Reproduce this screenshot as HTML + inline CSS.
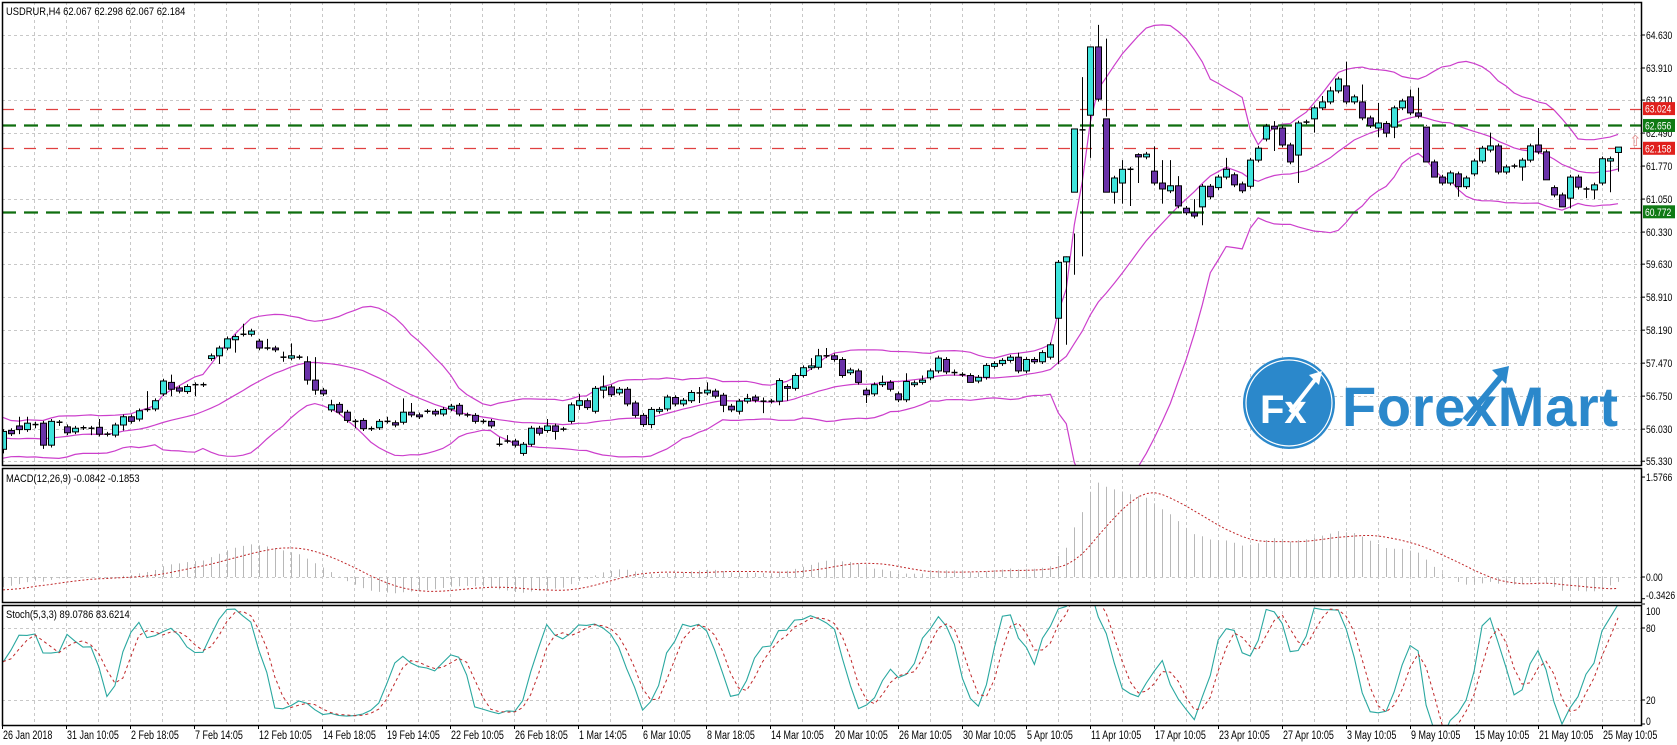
<!DOCTYPE html>
<html><head><meta charset="utf-8"><style>
html,body{margin:0;padding:0;background:#fff;}
svg{display:block;font-family:"Liberation Sans",Arial,sans-serif;}
</style></head><body>
<svg id="chart" width="1677" height="745" viewBox="0 0 1677 745" xmlns="http://www.w3.org/2000/svg"></svg>
<script>
// ---------- DATA ----------
const preClose = [56.9,56.95,56.85,56.9,56.8,56.75,56.85,56.7,56.6,56.65,56.55,56.5,56.6,56.45,56.4,56.5,56.35,56.3,56.4,56.25,56.2,56.3,56.1,56.0,56.15,55.9,55.75,55.85,55.6,55.5,55.7,55.95,56.1,55.8,55.6,55.5,55.75,56.0,55.7,55.6];
const opens = [55.59,56.0,56.1,56.02,56.14,56.16,55.68,56.18,56.08,55.97,56.06,56.05,56.07,55.92,55.9,56.12,56.3,56.25,56.46,56.47,56.8,57.05,56.93,56.85,57.0,57.0,57.57,57.63,57.8,57.98,58.1,58.1,57.95,57.8,57.8,57.6,57.58,57.6,57.5,57.1,56.88,56.45,56.57,56.4,56.2,56.22,56.04,56.06,56.2,56.17,56.18,56.4,56.34,56.42,56.42,56.36,56.47,56.55,56.34,56.33,56.2,56.2,55.7,55.77,55.77,55.5,55.7,56.05,56.0,56.1,56.03,56.2,56.55,56.65,56.42,56.88,56.95,56.82,56.9,56.6,56.33,56.13,56.42,56.47,56.72,56.58,56.65,56.82,56.82,56.86,56.77,56.53,56.42,56.64,56.73,56.64,56.64,56.64,56.96,56.92,57.2,57.37,57.38,57.63,57.63,57.55,57.26,57.3,56.88,56.8,57.0,57.05,56.8,56.67,57.0,57.05,57.15,57.3,57.55,57.28,57.22,57.2,57.08,57.16,57.4,57.46,57.53,57.6,57.3,57.55,57.5,57.6,58.45,59.68,61.2,62.56,62.88,64.37,62.8,61.2,61.4,61.7,62.02,61.97,61.66,61.4,61.23,61.34,60.85,60.75,60.88,61.33,61.3,61.53,61.58,61.38,61.33,61.9,62.36,62.64,62.6,62.23,62.01,62.73,62.8,63.04,63.17,63.41,63.52,63.17,63.17,62.82,62.6,62.7,62.62,63.04,63.28,62.93,62.62,61.86,61.53,61.4,61.6,61.32,61.6,61.88,62.12,62.21,61.64,61.77,61.75,61.9,62.23,62.08,61.3,61.14,61.07,61.53,61.27,61.25,61.4,61.88,62.067];
const closes = [55.98,55.93,56.02,56.16,56.12,55.68,56.2,56.18,55.95,56.05,56.06,56.05,55.92,55.92,56.12,56.3,56.2,56.43,56.46,56.65,57.08,56.9,56.86,56.96,57.0,57.0,57.63,57.8,58.0,58.05,58.1,58.17,57.8,57.8,57.76,57.6,57.63,57.6,57.1,56.88,56.8,56.56,56.4,56.22,56.2,56.04,56.04,56.2,56.2,56.12,56.4,56.34,56.3,56.42,56.36,56.46,56.53,56.36,56.34,56.2,56.2,56.1,55.7,55.77,55.68,55.7,56.05,55.94,56.1,55.98,56.03,56.56,56.65,56.5,56.92,56.95,56.78,56.9,56.58,56.33,56.13,56.46,56.46,56.73,56.58,56.66,56.83,56.82,56.88,56.75,56.55,56.45,56.64,56.7,56.66,56.64,56.64,57.09,56.92,57.2,57.37,57.41,57.63,57.63,57.55,57.2,57.32,57.05,56.78,57.0,57.05,56.9,56.67,57.07,57.04,57.1,57.3,57.58,57.28,57.25,57.22,57.05,57.16,57.42,57.46,57.53,57.6,57.3,57.55,57.5,57.7,57.87,59.67,59.79,62.58,62.56,64.37,63.23,61.2,61.51,61.7,61.7,61.97,62.03,61.4,61.27,61.34,60.9,60.75,60.68,61.33,61.1,61.53,61.7,61.36,61.23,61.9,62.16,62.64,62.58,62.23,61.86,62.71,62.73,63.04,63.17,63.41,63.67,63.17,63.28,62.82,62.65,62.71,62.49,63.04,63.19,62.93,62.86,61.86,61.53,61.4,61.62,61.32,61.51,61.88,62.16,62.21,61.64,61.75,61.77,61.9,62.21,62.08,61.47,61.14,60.88,61.53,61.31,61.27,61.36,61.93,61.93,62.184];
const highs = [null,null,56.3,56.3,null,null,null,null,null,null,null,null,56.25,null,null,null,null,null,56.86,null,null,57.22,null,null,null,null,null,null,null,null,58.33,null,null,58.0,null,57.72,57.9,null,57.62,57.6,null,56.67,null,null,null,null,null,null,56.3,null,56.7,56.6,null,null,null,null,null,null,null,null,null,null,55.85,55.9,null,null,null,null,56.25,null,null,null,56.8,null,null,57.2,null,null,null,null,null,null,null,null,null,null,null,56.95,57.05,null,null,null,null,56.8,null,56.72,null,null,null,null,null,57.58,57.78,57.8,null,null,null,null,null,null,57.2,null,null,57.25,null,57.2,null,null,null,null,null,null,null,null,null,null,null,57.7,null,null,null,null,null,59.8,60.3,63.71,63.34,64.85,64.55,null,61.9,null,62.05,null,62.2,61.9,61.9,61.55,null,61.05,null,null,null,61.95,null,null,null,null,null,62.75,null,null,null,null,null,63.3,63.5,null,64.05,null,63.55,null,63.15,null,null,null,63.44,63.48,null,null,null,null,null,null,null,null,62.5,null,null,null,null,null,62.6,null,null,null,null,null,null,null,null,null,62.1,62.298];
const lows = [55.5,null,55.92,null,56.05,55.6,null,56.1,null,null,null,55.9,null,null,55.85,56.0,null,null,null,null,null,56.75,null,56.8,56.75,null,null,57.45,null,57.7,null,null,null,null,null,57.5,null,null,57.0,56.78,null,null,null,null,56.05,null,null,null,null,null,null,null,null,null,null,null,null,null,null,null,null,null,null,null,null,null,null,null,null,55.8,null,null,56.45,null,null,56.7,null,null,null,null,null,56.05,null,null,null,null,null,56.6,null,null,56.4,null,56.35,null,null,56.38,null,56.55,56.65,null,null,null,null,null,null,null,null,null,56.6,null,null,null,null,null,null,null,null,null,null,null,null,57.05,null,null,null,null,null,null,null,null,null,null,57.45,57.87,59.4,59.8,61.95,null,62.85,60.95,60.95,60.9,61.4,null,null,60.95,null,null,null,null,60.48,null,null,null,null,null,null,null,null,62.1,null,null,61.4,null,62.5,null,null,null,null,null,null,null,62.4,62.4,62.38,null,null,null,62.65,61.68,null,null,61.1,null,null,null,null,null,null,null,61.45,null,null,61.9,null,60.95,60.85,null,61.07,61.05,null,61.2,61.65,62.067];
const dateLabels = ["26 Jan 2018","31 Jan 10:05","2 Feb 18:05","7 Feb 14:05","12 Feb 10:05","14 Feb 18:05","19 Feb 14:05","22 Feb 10:05","26 Feb 18:05","1 Mar 14:05","6 Mar 10:05","8 Mar 18:05","14 Mar 10:05","20 Mar 10:05","26 Mar 10:05","30 Mar 10:05","5 Apr 10:05","11 Apr 10:05","17 Apr 10:05","23 Apr 10:05","27 Apr 10:05","3 May 10:05","9 May 10:05","15 May 10:05","21 May 10:05","25 May 10:05"];
const priceTicks = [64.630,63.910,63.210,62.490,61.770,61.050,60.330,59.630,58.910,58.190,57.470,56.750,56.030,55.330];
const levelPrices = [63.024,62.656,62.158,60.772];
const levelColors = ["red","green","red","green"];
const macdTicks = [1.5766,0.00,-0.3426];
const stochTicks = [100,80,20,0];

// ---------- GEOMETRY ----------
const svg = document.getElementById('chart');
const NS = 'http://www.w3.org/2000/svg';
const L = 2, R = 1641;
const MAIN = {top:2, bot:465}, MACDP = {top:468, bot:602}, STP = {top:605, bot:725};
const N = closes.length;
const xOf = i => 3 + i * (1615 / (N - 1));
const yP = p => 35 + (64.63 - p) * 45.83;
const yM = v => 577 - v * 63.4;
const yS = v => 724 - v * 1.2;
function mk(tag, attrs, parent) {
  const e = document.createElementNS(NS, tag);
  for (const k in attrs) e.setAttribute(k, attrs[k]);
  (parent || svg).appendChild(e);
  return e;
}
function clip(id, top, bot) {
  const c = mk('clipPath', {id: id});
  mk('rect', {x: L, y: top, width: R - L, height: bot - top}, c);
}
clip('cm', MAIN.top, MAIN.bot); clip('cmacd', MACDP.top, MACDP.bot); clip('cst', STP.top, STP.bot);

// ---------- GRID ----------
const grid = mk('g', {stroke: '#c8c8c8', 'stroke-width': 1, 'stroke-dasharray': '3 3'});


for (let x = 34; x < R; x += 32) {
  [[MAIN.top, MAIN.bot], [MACDP.top, MACDP.bot], [STP.top, STP.bot]].forEach(p => mk('line', {x1: x + .5, x2: x + .5, y1: p[0], y2: p[1]}, grid));
}
priceTicks.forEach(p => mk('line', {x1: L, x2: R, y1: Math.round(yP(p)) + .5, y2: Math.round(yP(p)) + .5}, grid));
mk('line', {x1: L, x2: R, y1: Math.round(yM(0)) + .5, y2: Math.round(yM(0)) + .5}, grid);
[80, 20].forEach(v => mk('line', {x1: L, x2: R, y1: Math.round(yS(v)) + .5, y2: Math.round(yS(v)) + .5}, grid));

// ---------- INDICATORS ----------
const allC = preClose.concat(closes);
const P = preClose.length;
const allH = [], allL = [];
for (let k = 0; k < allC.length; k++) {
  const i = k - P;
  if (i < 0) { const o = k ? allC[k-1] : allC[k]; allH.push(Math.max(o, allC[k]) + 0.08); allL.push(Math.min(o, allC[k]) - 0.08); }
  else { allH.push(highs[i] != null ? highs[i] : Math.max(opens[i], closes[i]) + 0.05); allL.push(lows[i] != null ? lows[i] : Math.min(opens[i], closes[i]) - 0.05); }
}
const bbU = [], bbM = [], bbL = [];
for (let i = 0; i < N; i++) {
  const k = i + P; let s = 0; for (let j = k - 19; j <= k; j++) s += allC[j];
  const m = s / 20; let v = 0; for (let j = k - 19; j <= k; j++) v += (allC[j] - m) ** 2;
  const sd = Math.sqrt(v / 20); bbM.push(m); bbU.push(m + 2 * sd); bbL.push(m - 2 * sd);
}
const ema = (arr, n) => { const a = 2 / (n + 1); const out = [arr[0]]; for (let i = 1; i < arr.length; i++) out.push(out[i-1] + a * (arr[i] - out[i-1])); return out; };
const e12 = ema(allC, 12), e26 = ema(allC, 26);
const macdAll = allC.map((_, k) => e12[k] - e26[k]);
const sigAll = macdAll.map((_, k) => { let s = 0, c = 0; for (let j = Math.max(0, k - 8); j <= k; j++) { s += macdAll[j]; c++; } return s / c; });
const rawN = [], rawD = [];
for (let k = 0; k < allC.length; k++) {
  let hh = -1e9, ll = 1e9; for (let j = Math.max(0, k - 4); j <= k; j++) { hh = Math.max(hh, allH[j]); ll = Math.min(ll, allL[j]); }
  rawN.push(allC[k] - ll); rawD.push(hh - ll);
}
const kAll = allC.map((_, k) => { let a = 0, b = 0; for (let j = Math.max(0, k - 2); j <= k; j++) { a += rawN[j]; b += rawD[j]; } return b ? 100 * a / b : 50; });
const dAll = kAll.map((_, k) => { let s = 0, c = 0; for (let j = Math.max(0, k - 2); j <= k; j++) { s += kAll[j]; c++; } return s / c; });

function poly(vals, yf, attrs, name, cp) {
  const pts = vals.map((v, i) => xOf(i).toFixed(1) + ',' + yf(v).toFixed(1)).join(' ');
  const e = mk('polyline', Object.assign({points: pts, fill: 'none', 'clip-path': 'url(#' + cp + ')'}, attrs));
  
  
  return e;
}
const bandColor = '#cc3fcc';
poly(bbU, yP, {stroke: bandColor, 'stroke-width': 1.2}, 'bollinger-upper', 'cm');
poly(bbM, yP, {stroke: bandColor, 'stroke-width': 1.2}, 'bollinger-middle', 'cm');
poly(bbL, yP, {stroke: bandColor, 'stroke-width': 1.2}, 'bollinger-lower', 'cm');

// ---------- LEVEL LINES ----------
levelPrices.forEach((p, j) => {
  const y = Math.round(yP(p)) + .5;
  const green = levelColors[j] === 'green';
  const ln = mk('line', {x1: L, x2: R, y1: y, y2: y, stroke: green ? '#0f6e0f' : '#e04040', 'stroke-width': green ? 2.2 : 1.2, 'stroke-dasharray': green ? '14 8' : '12 10'});
  
  
});

// ---------- CANDLES ----------
const cg = mk('g', {'clip-path': 'url(#cm)'});


for (let i = 0; i < N; i++) {
  const x = Math.round(xOf(i)) + .5, o = opens[i], c = closes[i];
  const h = allH[i + P], l = allL[i + P];
  const g = mk('g', {}, cg);
  
  
  mk('line', {x1: x, x2: x, y1: yP(h), y2: yP(l), stroke: '#000', 'stroke-width': 1}, g);
  const yt = yP(Math.max(o, c)), yb = yP(Math.min(o, c));
  if (yb - yt < 1.5) mk('line', {x1: x - 3, x2: x + 3, y1: (yt + yb) / 2, y2: (yt + yb) / 2, stroke: '#000', 'stroke-width': 1.5}, g);
  else mk('rect', {x: x - 3, y: yt, width: 6, height: yb - yt, fill: c >= o ? '#3ee4dc' : '#6a32a8', stroke: '#000', 'stroke-width': 1}, g);
}

// ---------- MACD ----------
const mg = mk('g', {'clip-path': 'url(#cmacd)', stroke: '#b8b8b8', 'stroke-width': 1});


for (let i = 0; i < N; i++) {
  const x = Math.round(xOf(i)) + .5;
  const b = mk('line', {x1: x, x2: x, y1: yM(0), y2: yM(macdAll[i + P])}, mg);
  
  
}
poly(sigAll.slice(P), yM, {stroke: '#c0282a', 'stroke-width': 1, 'stroke-dasharray': '2 2'}, 'macd-signal-line', 'cmacd');

// ---------- STOCH ----------
poly(kAll.slice(P), yS, {stroke: '#2aa8a0', 'stroke-width': 1.1}, 'stoch-main-line', 'cst');
poly(dAll.slice(P), yS, {stroke: '#c0282a', 'stroke-width': 1, 'stroke-dasharray': '3 3'}, 'stoch-signal-line', 'cst');

// ---------- FRAMES ----------
[[MAIN.top, MAIN.bot, 'main-panel'], [MACDP.top, MACDP.bot, 'macd-panel'], [STP.top, STP.bot, 'stoch-panel']].forEach(p => {
  const r = mk('rect', {x: L + .5, y: p[0] + .5, width: R - L, height: p[1] - p[0], fill: 'none', stroke: '#000', 'stroke-width': 1.5});
  
  
});

// ---------- AXES LABELS ----------
function txt(s, x, y, attrs, name, squeeze) {
  const t = mk('text', Object.assign({x: x, y: y, 'font-size': 11, fill: '#000'}, attrs || {}));
  t.textContent = s;
  
  
  if (squeeze) {
    const w = t.getComputedTextLength();
    if (w > 0) { t.setAttribute('textLength', (w * squeeze).toFixed(1)); t.setAttribute('lengthAdjust', 'spacingAndGlyphs'); }
  }
  return t;
}
priceTicks.forEach(p => {
  const y = yP(p);
  mk('line', {x1: R, x2: R + 4, y1: y, y2: y, stroke: '#000'});
  txt(p.toFixed(3), R + 5, y + 4, {}, 'price-tick-label', 0.78);
});
macdTicks.forEach(v => {
  const y = Math.min(Math.max(yM(v), MACDP.top + 9), MACDP.bot - 7);
  mk('line', {x1: R, x2: R + 4, y1: yM(v), y2: yM(v), stroke: '#000'});
  txt(v === 0 ? '0.00' : String(v), R + 5, y + 4, {}, 'macd-tick-label', 0.78);
});
stochTicks.forEach(v => {
  const y = Math.min(Math.max(yS(v), STP.top + 6), STP.bot - 4);
  mk('line', {x1: R, x2: R + 4, y1: yS(v), y2: yS(v), stroke: '#000'});
  txt(String(v), R + 5, y + 4, {}, 'stoch-tick-label', 0.78);
});
dateLabels.forEach((d, k) => {
  const x = 2 + 64 * k;
  mk('line', {x1: x + .5, x2: x + .5, y1: STP.bot, y2: STP.bot + 4, stroke: '#000'});
  txt(d, x + 1, 739, {'font-size': 11.5}, 'date-label', 0.78);
});
levelPrices.forEach((p, j) => {
  const y = yP(p);
  const bg = mk('rect', {x: R + 2, y: y - 6.5, width: 32, height: 13, fill: levelColors[j] === 'green' ? '#0f7a14' : '#e0201c'});
  
  
  txt(p.toFixed(3), R + 4, y + 4, {fill: '#fff'}, 'level-price-tag', 0.78);
});
txt('⇧', 1629, 146, {'font-size': 15, fill: '#e49090'}, 'price-alert-arrow');

txt('USDRUR,H4  62.067 62.298 62.067 62.184', 6, 15, {}, 'chart-title', 0.85);
txt('MACD(12,26,9) -0.0842 -0.1853', 6, 482, {}, 'macd-label', 0.85);
txt('Stoch(5,3,3) 89.0786 83.6214', 6, 618, {}, 'stoch-label', 0.85);

// ---------- LOGO ----------
const lg = mk('g', {});


mk('circle', {cx: 1289, cy: 403, r: 46, fill: '#2b88cb'}, lg);
mk('circle', {cx: 1289, cy: 403, r: 43, fill: 'none', stroke: '#fff', 'stroke-width': 1.2}, lg);
const fx = mk('text', {x: 1260, y: 423, 'font-size': 40, 'font-weight': 'bold', fill: '#fff'}, lg);
fx.textContent = 'Fx';


mk('path', {d: 'M1290 412 L1318 376', stroke: '#fff', 'stroke-width': 4, fill: 'none'}, lg);
mk('path', {d: 'M1322 371 L1309 375 L1319 385 Z', fill: '#fff'}, lg);
const fm = mk('text', {x: 1342, y: 426, 'font-size': 56, 'font-weight': 'bold', fill: '#2b88cb', textLength: 276}, lg);
fm.textContent = 'ForexMart';


mk('path', {d: 'M1465 420 L1505 372', stroke: '#2b88cb', 'stroke-width': 6, fill: 'none'}, lg);
mk('path', {d: 'M1509 366 L1492 370 L1506 384 Z', fill: '#2b88cb'}, lg);
</script>
</body></html>
